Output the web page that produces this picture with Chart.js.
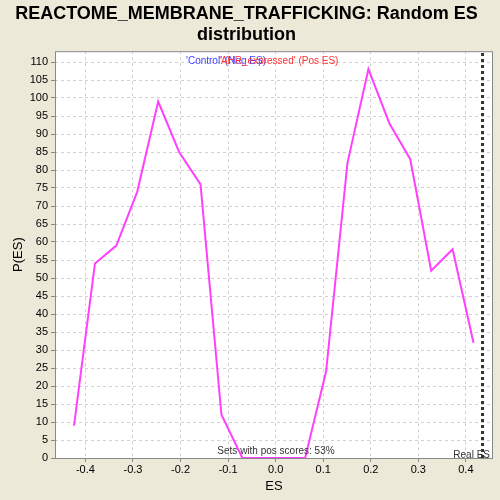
<!DOCTYPE html>
<html>
<head>
<meta charset="utf-8">
<script src="https://cdn.jsdelivr.net/npm/chart.js@4.4.0/dist/chart.umd.min.js"></script>
<style>
  html, body { margin: 0; padding: 0; background: #ECE9D8; }
  #wrap { width: 500px; height: 500px; }
</style>
</head>
<body>
<div id="wrap"><canvas id="chart" width="500" height="500"></canvas></div>
<script>
// Данные
const esValues = [-0.424, -0.380, -0.335, -0.291, -0.247, -0.203, -0.158, -0.114, -0.070, -0.026,
                  0.018, 0.062, 0.106, 0.151, 0.195, 0.239, 0.283, 0.327, 0.372, 0.416];
const pValues = [9, 54, 59, 74, 99, 85, 76, 12, 0, 0,
                 0, 0, 24, 82, 108, 93, 83, 52, 58, 32];
const realES = 0.435;
const titleLines = ['REACTOME_MEMBRANE_TRAFFICKING: Random ES', 'distribution'];
const negLabel = "'Control' (Neg ES)";
const posLabel = "'AHR_expressed' (Pos ES)";
const posScoresText = 'Sets with pos scores: 53%';
const realEsText = 'Real ES';

const X_MIN = -0.464, X_MAX = 0.457, Y_MAX = 113;
const FONT = '"Liberation Sans", Arial, sans-serif';

// Фон области графика и подписи внутри
const plotDecor = {
    id: 'plotDecor',
    beforeDraw(chart) {
        const { ctx, chartArea: a } = chart;
        ctx.save();
        ctx.fillStyle = '#ffffff';
        ctx.fillRect(a.left, a.top, a.right - a.left, a.bottom - a.top);
        ctx.restore();
    },
    afterDraw(chart) {
        const { ctx, chartArea: a } = chart;
        ctx.save();
        ctx.strokeStyle = '#888888';
        ctx.lineWidth = 1;
        ctx.strokeRect(a.left + 0.5, a.top + 0.5, a.right - a.left - 1, a.bottom - a.top);
        ctx.font = '10px ' + FONT;
        ctx.textBaseline = 'middle';
        ctx.textAlign = 'left';
        ctx.fillStyle = '#4040ff';
        ctx.fillText(negLabel, 186, a.top + 10);
        ctx.fillStyle = '#ff3030';
        ctx.fillText(posLabel, 219, a.top + 10);
        ctx.fillStyle = '#333333';
        ctx.textAlign = 'center';
        ctx.fillText(posScoresText, 276, a.bottom - 7);
        ctx.textAlign = 'right';
        ctx.fillText(realEsText, a.right - 3, a.bottom - 3);
        ctx.restore();
    }
};

const ctx = document.getElementById('chart').getContext('2d');
new Chart(ctx, {
    type: 'line',
    data: {
        datasets: [
            {
                data: esValues.map((x, i) => ({ x: x, y: pValues[i] })),
                borderColor: 'rgb(255, 64, 255)',
                borderWidth: 2,
                pointRadius: 0,
                tension: 0,
                fill: false
            },
            {
                data: [{ x: realES, y: 0 }, { x: realES, y: Y_MAX }],
                borderColor: '#333333',
                borderWidth: 3,
                borderDash: [3, 3],
                pointRadius: 0,
                fill: false
            }
        ]
    },
    plugins: [plotDecor],
    options: {
        responsive: false,
        animation: false,
        layout: { padding: { left: 0, right: 7, top: 0, bottom: 0 } },
        plugins: {
            legend: { display: false },
            tooltip: { enabled: false },
            title: {
                display: true,
                text: titleLines,
                color: '#000000',
                font: { family: FONT, size: 18, weight: 'bold', lineHeight: 1.2 },
                padding: { top: 3, bottom: 5 }
            }
        },
        scales: {
            x: {
                type: 'linear',
                min: X_MIN,
                max: X_MAX,
                afterFit(scale) { scale.height = 42; },
                ticks: {
                    stepSize: 0.1,
                    includeBounds: false,
                    color: '#000000',
                    font: { family: FONT, size: 11 },
                    padding: 1,
                    maxRotation: 0,
                    callback: v => (Math.abs(v) < 1e-9 ? 0 : v).toFixed(1)
                },
                grid: { color: '#d0d0d0', tickColor: '#888888', tickLength: 4 },
                border: { display: false, dash: [3, 3] },
                title: {
                    display: true,
                    text: 'ES',
                    color: '#000000',
                    font: { family: FONT, size: 13 },
                    padding: { top: 0, bottom: 6 }
                }
            },
            y: {
                min: 0,
                max: Y_MAX,
                afterFit(scale) { scale.width = 55; },
                ticks: {
                    stepSize: 5,
                    includeBounds: false,
                    color: '#000000',
                    font: { family: FONT, size: 11 },
                    padding: 3
                },
                grid: { color: '#d0d0d0', tickColor: '#888888', tickLength: 4 },
                border: { display: false, dash: [3, 3] },
                title: {
                    display: true,
                    text: 'P(ES)',
                    color: '#000000',
                    font: { family: FONT, size: 13 },
                    padding: { top: 11, bottom: 0 }
                }
            }
        }
    }
});
</script>
</body>
</html>
